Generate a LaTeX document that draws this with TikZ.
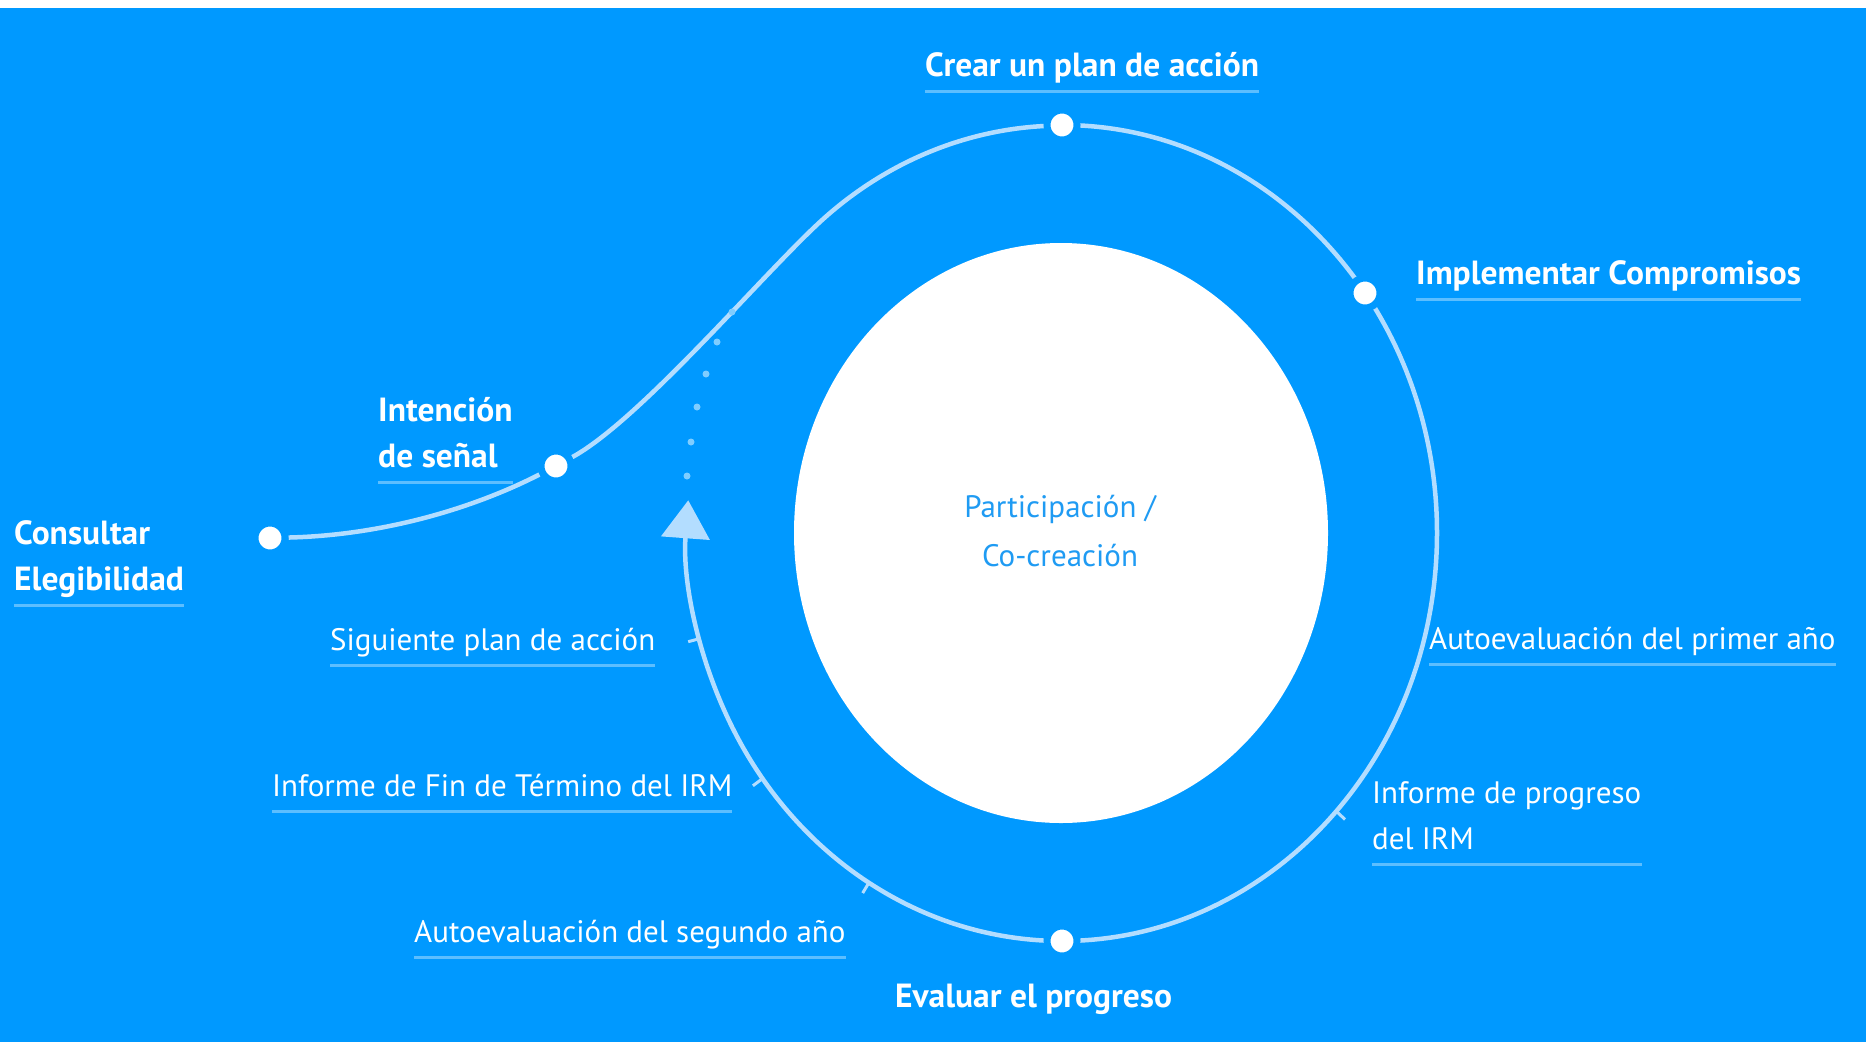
\documentclass[tikz,border=0pt]{standalone}
\usepackage{fontspec}
\setmainfont{PT Sans}
\usepackage{xcolor}
\usetikzlibrary{arrows.meta, backgrounds, calc}

\definecolor{ogpblue}{HTML}{0099FF}
\definecolor{ringblue}{HTML}{B3DDFF}
\definecolor{lineblue}{HTML}{5CBEFF}
\definecolor{dotblue}{HTML}{7FCDFF}
\definecolor{midblue}{HTML}{1F9BF3}

\tikzset{
  ring/.style={draw=ringblue, line width=4.5pt},
  tickmark/.style={draw=ringblue, line width=3pt},
  phasedot/.style={circle, fill=white, draw=ogpblue, line width=7pt, minimum size=30pt, inner sep=0pt},
  steplbl/.style={text=white, font=\fontsize{31}{46}\selectfont, anchor=south west,
    inner sep=0pt, text depth=0pt, align=left},
  phaselbl/.style={steplbl, font=\fontsize{33.5}{46}\selectfont\bfseries},
  midlbl/.style={text=midblue, font=\fontsize{31}{49}\selectfont, align=center},
  uline/.style={draw=lineblue, line width=3pt}
}

\begin{document}
\begin{tikzpicture}[x=1pt, y=-1pt]
  \useasboundingbox (0,0) rectangle (1866,1042);

  % Stations on the path
  \node[phasedot] (cons) at (270,538) {};
  \node[phasedot] (int) at (556,466) {};
  \node[phasedot] (plan) at (1062,125) {};
  \node[phasedot] (impl) at (1365,293) {};
  \node[phasedot] (eval) at (1062,941) {};

  \begin{scope}[on background layer]
    % Background
    \fill[white] (0,0) rectangle (1866,1042);
    \fill[ogpblue] (0,8) rectangle (1866,1042);
    \fill[white] (1061,533) ellipse [x radius=267, y radius=290];
    % Cycle
    \draw[ring, -{Triangle[length=38pt, width=48pt]}] (plan.center)
      arc[start angle=-90, end angle=184.6, x radius=375, y radius=408];
    % Entry path
    \draw[ring] (cons) .. controls (390,535) and (480,505) .. (int)
      .. controls (640,420) and (762,275) .. (821,221)
      arc[start angle=230, end angle=270, x radius=375, y radius=408];
    % Ticks
    \foreach \a in {165,143,121,43}
      \draw[tickmark] ($(1062,533)+(\a:375 and 408)$) -- ++(\a:12);
    % Dots
    \foreach \p in {(687,476),(691,442),(697,407),(706,374),(717,342),(732,312)}
      \fill[dotblue] \p circle[radius=3.5];
  \end{scope}

  % Centre
  \node[midlbl] (mid) at (1060,531) {Participación /\\Co-creación};

  % Phase labels
  \node[phaselbl] (crearL) at (925,77) {Crear un plan de acción};
  \node[phaselbl] (implL) at (1416,285) {Implementar Compromisos};
  \node[phaselbl] (intL) at (378,468) {Intención\\de señal};
  \node[phaselbl] (consL) at (14,591) {Consultar\\Elegibilidad};
  \node[phaselbl] (evalL) at (895,1008) {Evaluar el progreso};

  % Step labels
  \node[steplbl] (sigL) at (330,651) {Siguiente plan de acción};
  \node[steplbl] (finL) at (272,797) {Informe de Fin de Término del IRM};
  \node[steplbl] (segL) at (414,943) {Autoevaluación del segundo año};
  \node[steplbl] (priL) at (1429,650) {Autoevaluación del primer año};
  \node[steplbl] (progL) at (1372,850) {Informe de progreso\\del IRM};

  % Underlines
  \foreach \n in {crearL,implL,intL,consL,sigL,finL,segL,priL,progL}
    \draw[uline] ([yshift=-14pt]\n.south west) -- ([yshift=-14pt]\n.south east);
\end{tikzpicture}
\end{document}
